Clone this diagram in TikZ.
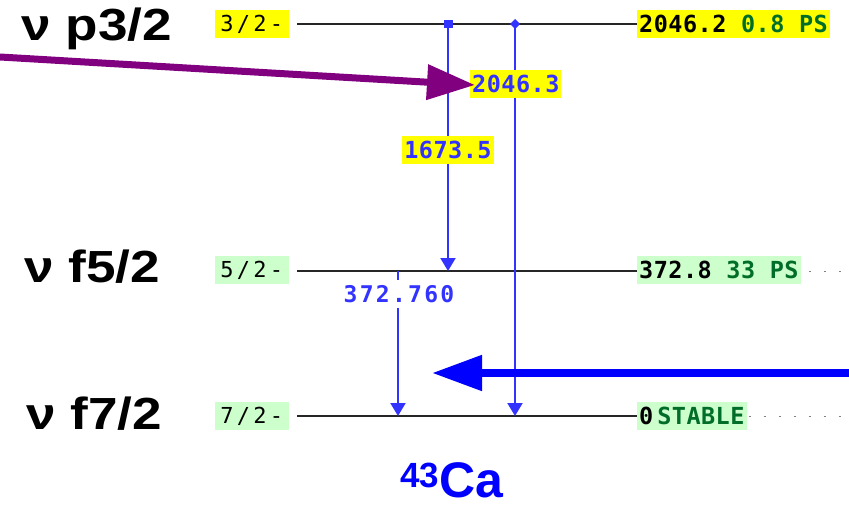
\documentclass[tikz,border=0pt]{standalone}
\usepackage{fontspec}
\setmainfont{Liberation Sans}
\newfontfamily\monof[LetterSpace=15]{DejaVu Sans Mono}
\newfontfamily\monoff[LetterSpace=2]{DejaVu Sans Mono}
\newfontfamily\monog[LetterSpace=10]{DejaVu Sans Mono}
\usetikzlibrary{arrows.meta}
\definecolor{lvyellow}{RGB}{255,255,0}
\definecolor{lvgreen}{RGB}{204,255,204}
\definecolor{dkgreen}{RGB}{0,110,40}
\definecolor{trblue}{RGB}{51,51,255}
\definecolor{bigblue}{RGB}{0,0,255}
\definecolor{purp}{RGB}{128,0,128}
\tikzset{
  orb/.style={font=\bfseries\fontsize{45}{45}\selectfont, inner sep=0pt},
  spin/.style={font=\monof\fontsize{22}{22}\selectfont, inner sep=2pt, minimum height=28pt, minimum width=74pt, anchor=east},
  energy/.style={font=\monoff\bfseries\fontsize{23.5}{23.5}\selectfont, inner sep=2pt, minimum height=28pt, anchor=west},
  level/.style={line width=1.6pt, black!85},
  gam/.style={line width=2pt, trblue, -{Triangle[width=15pt,length=13pt]}},
  glabel/.style={font=\monoff\bfseries\fontsize{23.5}{23.5}\selectfont, text=trblue, inner sep=2pt, minimum height=28pt},
  tail/.style={gray, line width=1pt, dash pattern=on 2pt off 13pt},
}
\begin{document}
\begin{tikzpicture}[x=1pt,y=-1pt]
\useasboundingbox (0,0) rectangle (849,508);
% orbital labels
\node[orb] (o1) at (97,29) {\scalebox{1.18}[1]{ν p3/2}};
\node[orb] (o2) at (92,267) {\scalebox{1.18}[1]{ν f5/2}};
\node[orb] (o3) at (94,414) {\scalebox{1.18}[1]{ν f7/2}};
% spin labels
\node[spin, fill=lvyellow] (s1) at (289,24) {3/2-};
\node[spin, fill=lvgreen] (s2) at (289,270) {5/2-};
\node[spin, fill=lvgreen] (s3) at (289,416) {7/2-};
% level lines
\coordinate (a1) at (297,24); \coordinate (b1) at (637,24);
\coordinate (a2) at (297,271); \coordinate (b2) at (637,271);
\coordinate (a3) at (297,416); \coordinate (b3) at (637,416);
\draw[level] (a1) -- (b1);
\draw[level] (a2) -- (b2);
\draw[level] (a3) -- (b3);
% energy labels
\node[energy, fill=lvyellow] (e1) at (637,24) {2046.2 \textcolor{dkgreen}{0.8 PS}};
\node[energy, fill=lvgreen] (e2) at (637,270) {372.8 \textcolor{dkgreen}{33 PS}};
\node[energy, fill=lvgreen] (e3) at (637,416) {0\,\textcolor{dkgreen}{STABLE}};
\coordinate (t2) at (846,271);
\coordinate (t3) at (846,416);
\draw[tail] ([xshift=8pt]e2.east |- a2) -- (t2);
\draw[tail] ([xshift=2pt]e3.east |- a3) -- (t3);
% transitions
\coordinate (g1s) at (448,24); \coordinate (g1e) at (448,271);
\coordinate (g2s) at (515,24); \coordinate (g2e) at (515,416);
\coordinate (g3s) at (398,271); \coordinate (g3e) at (398,416);
\draw[gam] (g1s) -- (g1e);
\draw[gam] (g2s) -- (g2e);
\draw[gam] (g3s) -- (g3e);
\fill[trblue] ([shift={(-4.5,-4)}]g1s) rectangle ([shift={(4.5,4)}]g1s);
\fill[trblue] ([xshift=-5pt]g2s) -- ([yshift=5pt]g2s) -- ([xshift=5pt]g2s) -- ([yshift=-5pt]g2s) -- cycle;
\node[glabel, fill=lvyellow] (l1) at (448,150) {1673.5};
\node[glabel, fill=lvyellow, anchor=west] (l2) at (470,84) {2046.3};
\node[glabel, fill=white, font=\monog\fontsize{23}{23}\selectfont\bfseries] (l3) at (399,294) {372.760};
% big arrows
\coordinate (pstart) at (0,57);
\draw[purp, line width=7pt, -{Triangle[width=34pt,length=48pt]}] (pstart) -- ([xshift=5pt,yshift=-1pt]l2.west);
\coordinate (bstart) at (849,373);
\coordinate (bend) at (432,373);
\draw[bigblue, line width=8pt, -{Triangle[width=34pt,length=50pt]}] (bstart) -- (bend);
% nucleus label
\node[font=\bfseries\fontsize{50}{50}\selectfont, text=bigblue, inner sep=0pt, text depth=0pt, anchor=base] (ca) at (452,497) {\textsuperscript{43}Ca};
\end{tikzpicture}
\end{document}
